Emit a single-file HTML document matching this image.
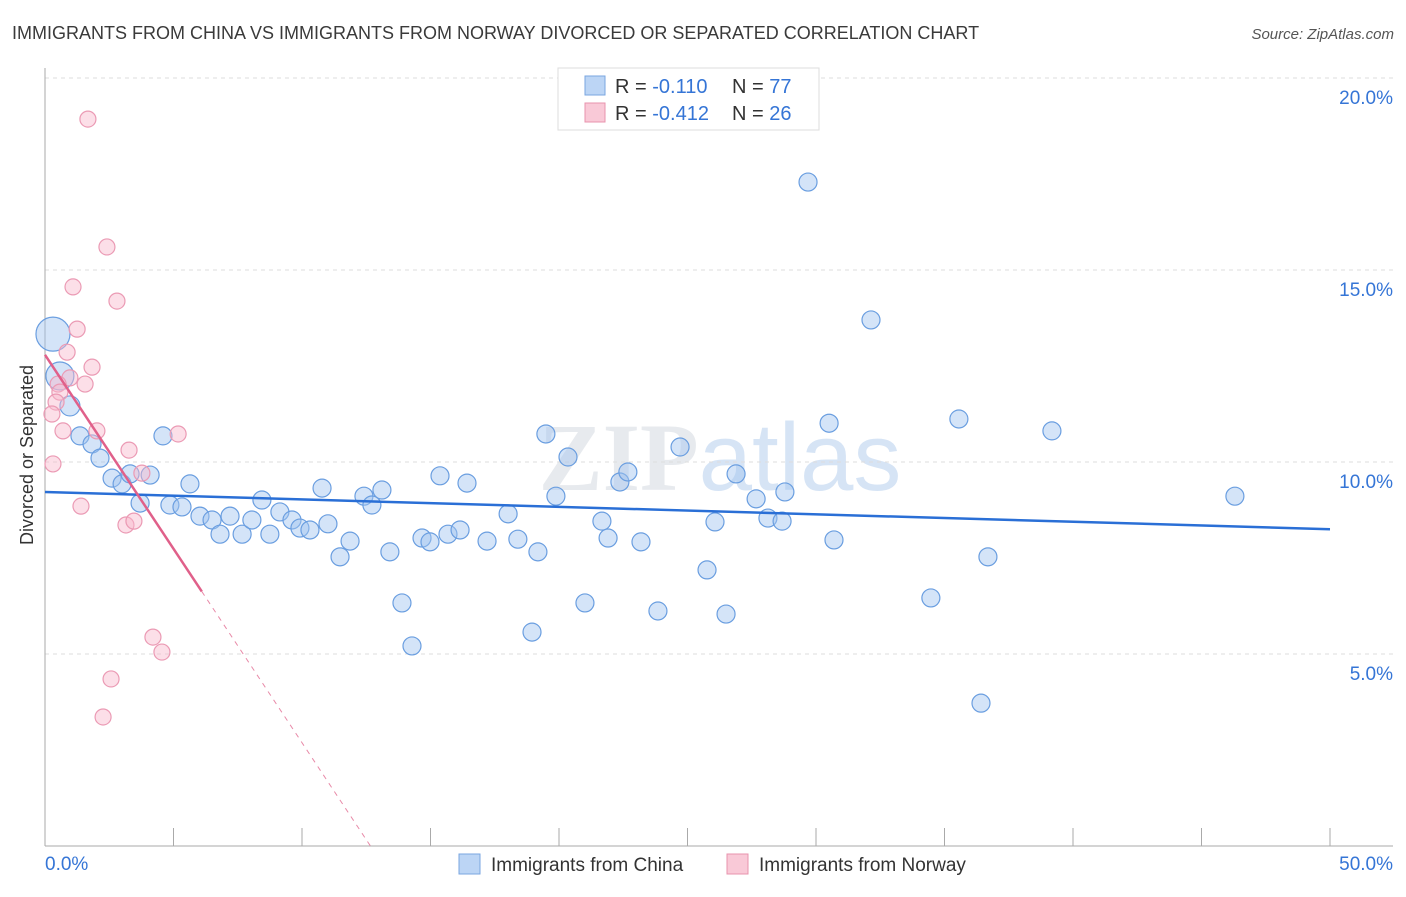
<!DOCTYPE html>
<html><head><meta charset="utf-8"><style>
body{margin:0;background:#fff;font-family:"Liberation Sans",sans-serif;}
svg text{font-family:"Liberation Sans",sans-serif;}
</style></head><body>
<svg id="chart" width="1406" height="892" xmlns="http://www.w3.org/2000/svg">
<text x="12" y="39" font-size="18" fill="#3a3a3a">IMMIGRANTS FROM CHINA VS IMMIGRANTS FROM NORWAY DIVORCED OR SEPARATED CORRELATION CHART</text>
<text x="1394" y="39" font-size="15" font-style="italic" fill="#555" text-anchor="end">Source: ZipAtlas.com</text>
<text x="720" y="490" font-size="96" text-anchor="middle" fill="#d8dde3" opacity="0.6"><tspan font-family="Liberation Serif" font-weight="bold">ZIP</tspan><tspan fill="#bcd3ef">atlas</tspan></text>
<g id="grid"></g>
<g id="axes"></g>
<g id="marks"></g>
<text transform="translate(33,455) rotate(-90)" font-size="18" fill="#333" text-anchor="middle">Divorced or Separated</text>
<g>
<rect x="558" y="68" width="261" height="62" fill="#fff" stroke="#ddd"/>
<rect x="585" y="76" width="20" height="19" fill="#bcd5f5" stroke="#7aa6e0"/>
<text x="615" y="93" font-size="20" fill="#333">R = <tspan fill="#3575d6">-0.110</tspan><tspan x="732">N = </tspan><tspan fill="#3575d6">77</tspan></text>
<rect x="585" y="103" width="20" height="19" fill="#f9c9d7" stroke="#e893ad"/>
<text x="615" y="120" font-size="20" fill="#333">R = <tspan fill="#3575d6">-0.412</tspan><tspan x="732">N = </tspan><tspan fill="#3575d6">26</tspan></text>
</g>
<g>
<rect x="459" y="854" width="21" height="20" fill="#bcd5f5" stroke="#7aa6e0"/>
<text x="491" y="871" font-size="19" fill="#333">Immigrants from China</text>
<rect x="727" y="854" width="21" height="20" fill="#f9c9d7" stroke="#e893ad"/>
<text x="759" y="871" font-size="19" fill="#333">Immigrants from Norway</text>
</g>
</svg>
<script>
const chinaX=[0.31,0.58,0.97,1.36,1.83,2.14,2.61,3.00,3.31,3.70,4.09,4.59,4.86,5.33,5.64,6.03,6.50,6.81,7.20,7.67,8.05,8.44,8.75,9.14,9.61,9.92,10.31,10.78,11.01,11.48,11.87,12.41,12.72,13.11,13.42,13.89,14.28,14.67,14.98,15.37,15.68,16.15,16.42,17.20,18.02,18.40,18.95,19.18,19.49,19.88,20.35,21.01,21.67,21.91,22.37,22.68,23.19,23.85,24.71,25.76,26.07,26.50,26.89,27.67,28.13,28.68,28.79,29.69,30.51,30.70,32.14,34.47,35.56,36.42,36.69,39.18,46.30];
const chinaY=[13.33,12.24,11.46,10.68,10.47,10.10,9.58,9.43,9.69,8.93,9.66,10.68,8.88,8.83,9.43,8.59,8.49,8.12,8.59,8.12,8.49,9.01,8.12,8.70,8.49,8.28,8.23,9.32,8.39,7.53,7.94,9.11,8.88,9.27,7.66,6.33,5.21,8.02,7.92,9.64,8.12,8.23,9.45,7.94,8.65,7.99,5.57,7.66,10.73,9.11,10.13,6.33,8.46,8.02,9.48,9.74,7.92,6.12,10.39,7.19,8.44,6.04,9.69,9.04,8.54,8.46,9.22,17.29,11.01,7.97,13.70,6.46,11.12,3.72,7.53,10.81,9.11];
const chinaSize=[17,14,10,9,9,9,9,9,9,9,9,9,9,9,9,9,9,9,9,9,9,9,9,9,9,9,9,9,9,9,9,9,9,9,9,9,9,9,9,9,9,9,9,9,9,9,9,9,9,9,9,9,9,9,9,9,9,9,9,9,9,9,9,9,9,9,9,9,9,9,9,9,9,9,9,9,9];
const norwayX=[1.67,2.41,1.09,2.80,1.25,0.86,1.83,0.97,0.51,1.56,0.58,0.43,0.27,0.70,2.02,5.18,0.31,3.27,3.77,1.40,3.15,3.46,4.20,4.55,2.57,2.26];
const norwayY=[18.93,15.60,14.56,14.19,13.46,12.86,12.47,12.19,12.03,12.03,11.82,11.56,11.25,10.81,10.81,10.73,9.95,10.31,9.71,8.85,8.36,8.46,5.44,5.05,4.35,3.36];
const chinaTrend=[9.22,8.25];
const norwayTrend=[12.79,-1.01,6.1];
const yTicks=[5,10,15,20];
const yTickLabels=["5.0%","10.0%","15.0%","20.0%"];
const xTicks=[0,5,10,15,20,25,30,35,40,45,50];
const NS="http://www.w3.org/2000/svg";
const X0=45,X1=1330,Y0=846,PXY=192/5;
function sx(v){return X0+(X1-X0)*v/50;}
function sy(v){return Y0-v*PXY;}
function mk(tag,attrs,parent){const e=document.createElementNS(NS,tag);for(const k in attrs)e.setAttribute(k,attrs[k]);parent.appendChild(e);return e;}
const grid=document.getElementById('grid'),axes=document.getElementById('axes'),marks=document.getElementById('marks');
yTicks.forEach((t,i)=>{
 const l=mk('line',{x1:X0,x2:1393,y1:sy(t),y2:sy(t),stroke:'#ddd','stroke-dasharray':'4,4'},grid);
 
 
 const tx=mk('text',{x:1393,y:sy(t)+26,'font-size':19,fill:'#3575d6','text-anchor':'end'},axes);
 tx.textContent=yTickLabels[i];
 
 
});
const ax=mk('line',{x1:X0,x2:X0,y1:68,y2:Y0,stroke:'#aaa'},axes);


const bx=mk('line',{x1:X0,x2:1393,y1:Y0,y2:Y0,stroke:'#aaa'},axes);


xTicks.forEach(t=>{
 const l=mk('line',{x1:sx(t),x2:sx(t),y1:828,y2:Y0,stroke:'#aaa'},axes);
 
 
});
const xl0=mk('text',{x:45,y:870,'font-size':19,fill:'#3575d6'},axes);xl0.textContent='0.0%';


const xl1=mk('text',{x:1393,y:870,'font-size':19,fill:'#3575d6','text-anchor':'end'},axes);xl1.textContent='50.0%';


chinaX.forEach((v,i)=>{
 const c=mk('circle',{cx:sx(v),cy:sy(chinaY[i]),r:chinaSize[i],fill:'rgba(160,196,240,0.45)',stroke:'#6a9ee0','stroke-width':1.2},marks);
 
 
});
norwayX.forEach((v,i)=>{
 const c=mk('circle',{cx:sx(v),cy:sy(norwayY[i]),r:8,fill:'rgba(248,185,205,0.45)',stroke:'#eb9ab4','stroke-width':1.2},marks);
 
 
});
const ct=mk('line',{x1:sx(0),y1:sy(chinaTrend[0]),x2:sx(50),y2:sy(chinaTrend[1]),stroke:'#2a6fd6','stroke-width':2.5},marks);


const xe=norwayTrend[2],xz=-norwayTrend[0]/norwayTrend[1];
const nt=mk('line',{x1:sx(0),y1:sy(norwayTrend[0]),x2:sx(xe),y2:sy(norwayTrend[0]+norwayTrend[1]*xe),stroke:'#e0608a','stroke-width':2.5},marks);


const nd=mk('line',{x1:sx(xe),y1:sy(norwayTrend[0]+norwayTrend[1]*xe),x2:sx(xz),y2:sy(0),stroke:'#e88aa8','stroke-width':1,'stroke-dasharray':'5,5'},marks);


</script>
</body></html>
